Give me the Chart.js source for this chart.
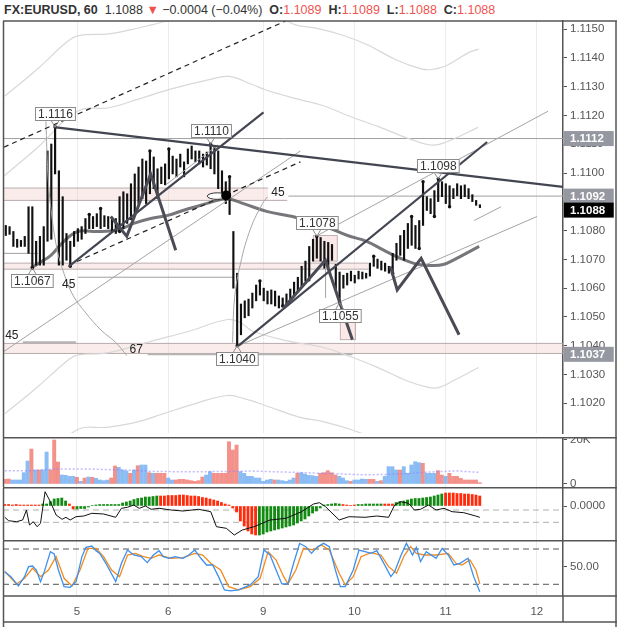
<!DOCTYPE html>
<html><head><meta charset="utf-8">
<script src="https://cdn.jsdelivr.net/npm/chart.js@4.4.1/dist/chart.umd.min.js"></script>
<style>
html,body{margin:0;padding:0;background:#fff;overflow:hidden}
#wrap{position:relative;width:617px;height:627px;overflow:hidden;font-family:"Liberation Sans",Arial,sans-serif}
#wrap canvas{position:absolute;left:0}
#hdr{position:absolute;left:4px;top:2px;font-size:12.5px;line-height:16px;color:#333;white-space:nowrap}
#hdr .b{font-weight:bold}
#hdr .r{color:#ef5350}
</style></head><body>
<div id="wrap">
<div id="hdr"><span class="b">FX:EURUSD, 60</span>&nbsp; <span>1.1088</span> <span class="r">▼</span> <span>−0.0004 (−0.04%)</span>&nbsp; <span class="b">O:</span><span class="r">1.1089</span>&nbsp; <span class="b">H:</span><span class="r">1.1089</span>&nbsp; <span class="b">L:</span><span class="r">1.1088</span>&nbsp; <span class="b">C:</span><span class="r">1.1088</span></div>
<canvas id="cMain" width="617" height="437" style="top:0"></canvas>
<canvas id="cVol" width="617" height="50" style="top:437px"></canvas>
<canvas id="cMacd" width="617" height="53" style="top:487px"></canvas>
<canvas id="cStoch" width="617" height="87" style="top:540px"></canvas>
</div>
<script>
// ---------------- DATA ----------------
const FIRST = 5; // index of first hourly bar
const dayTicks = [24, 48, 73, 97, 121, 145];
const dayLabels = ['5', '6', '9', '10', '11', '12'];
const priceTicks = [1.115,1.114,1.113,1.112,1.111,1.110,1.109,1.108,1.107,1.106,1.105,1.104,1.103,1.102];

const highs = [
1.10818,1.10814,1.10797,1.10770,1.10766,1.10780,1.10883,1.10883,1.10763,1.10780,
1.10814,1.11077,1.11101,1.11160,1.11008,1.10918,1.10790,1.10763,1.10797,1.10807,
1.10814,1.10842,1.10856,1.10849,1.10859,1.10877,1.10852,1.10849,1.10842,1.10842,
1.10918,1.10935,1.10928,1.10963,1.10997,1.11021,1.11049,1.11042,1.11077,1.11056,
1.11015,1.11021,1.11032,1.11084,1.11059,1.11049,1.11066,1.11039,1.11084,1.11094,
1.11077,1.11077,1.11066,1.11073,1.11100,1.11090,1.11077,1.11008,1.10970,1.10987,
1.10797,1.10652,1.10545,1.10556,1.10562,1.10583,1.10611,1.10625,1.10600,1.10590,
1.10594,1.10590,1.10573,1.10566,1.10580,1.10597,1.10621,1.10638,1.10676,1.10694,
1.10745,1.10770,1.10780,1.10776,1.10763,1.10759,1.10752,1.10683,1.10656,1.10645,
1.10652,1.10659,1.10645,1.10659,1.10656,1.10652,1.10687,1.10711,1.10701,1.10694,
1.10687,1.10676,1.10721,1.10756,1.10783,1.10801,1.10825,1.10849,1.10818,1.10835,
1.10970,1.10918,1.10911,1.10939,1.10980,1.10970,1.10963,1.10956,1.10946,1.10963,
1.10956,1.10959,1.10946,1.10925,1.10905,1.10890];
const lows = [
1.10783,1.10787,1.10745,1.10742,1.10745,1.10745,1.10721,1.10670,1.10680,1.10680,
1.10680,1.10763,1.10770,1.10997,1.10680,1.10680,1.10697,1.10676,1.10745,1.10763,
1.10770,1.10790,1.10807,1.10807,1.10814,1.10807,1.10814,1.10807,1.10797,1.10790,
1.10797,1.10807,1.10825,1.10842,1.10859,1.10894,1.10911,1.10894,1.10928,1.10946,
1.10911,1.10963,1.10959,1.10980,1.10997,1.10987,1.11021,1.10987,1.11032,1.11049,
1.11039,1.11032,1.11021,1.11028,1.11015,1.10997,1.10946,1.10911,1.10894,1.10856,
1.10600,1.10400,1.10438,1.10497,1.10504,1.10531,1.10556,1.10576,1.10556,1.10545,
1.10545,1.10538,1.10531,1.10538,1.10545,1.10562,1.10576,1.10590,1.10607,1.10625,
1.10625,1.10694,1.10704,1.10694,1.10669,1.10669,1.10697,1.10594,1.10550,1.10600,
1.10611,1.10625,1.10618,1.10632,1.10632,1.10635,1.10642,1.10676,1.10669,1.10663,
1.10659,1.10652,1.10652,1.10697,1.10714,1.10697,1.10738,1.10749,1.10738,1.10738,
1.10818,1.10870,1.10859,1.10849,1.10901,1.10918,1.10894,1.10883,1.10911,1.10921,
1.10911,1.10918,1.10911,1.10901,1.10888,1.10880];

// zigzag pivots: [bar index, 'H' or 'L']
const pivots = [[12,'L'],[18,'H'],[22,'L'],[27,'H'],[30,'H'],[35,'L'],[38,'L'],[43,'H'],[48,'H'],[59,'H'],[64,'H'],[66,'L'],[72,'H'],[78,'L'],[87,'H'],[93,'L'],[102,'H'],[107,'L'],[112,'H'],[114,'L'],[115,'H'],[118,'L'],[119,'H'],[122,'L']];
const pivotLabels = [[18,'H'],[59,'H'],[12,'L'],[87,'H'],[93,'L'],[119,'H'],[66,'L']];

// moving average (thick grey)
const maLine = [[11.6,1.10669],[13.7,1.10687],[16.9,1.10714],[20.3,1.10763],[24,1.10797],[28.2,1.10797],[34.5,1.10802],[38.7,1.10825],[43.2,1.10842],[47.7,1.10853],[51.9,1.10871],[56.4,1.10888],[60.8,1.10905],[63.5,1.10911],[67.7,1.10894],[74,1.10866],[80.6,1.10849],[85.3,1.10828],[89.3,1.10814],[95.1,1.10783],[100.1,1.10763],[104.5,1.10733],[109,1.10704],[113.5,1.10683],[116.9,1.10679],[120.3,1.10682],[123.5,1.10701],[129.8,1.10745]];

// envelope bands (light grey)
const bandA = [[4.68,1.11267],[13.21,1.11360],[20.76,1.11452],[24,1.11477],[32.16,1.11484],[37.82,1.11498],[43.47,1.11515],[51.1,1.11539],[66.9,1.11553],[77.42,1.11539],[81.37,1.11515],[87.03,1.11503],[93.66,1.11480],[100.32,1.11446],[107.87,1.11394],[114.53,1.11362],[117.34,1.11360],[121.1,1.11373],[126.79,1.11417],[129.63,1.11431]];
const bandB = [[4.53,1.10990],[13.47,1.11090],[24,1.11216],[32.16,1.11227],[39.71,1.11256],[48.21,1.11291],[58.63,1.11325],[63.84,1.11336],[70.0,1.11308],[73.74,1.11288],[82.32,1.11256],[88.92,1.11233],[96.5,1.11193],[103.74,1.11159],[111.63,1.11118],[117.42,1.11097],[121.1,1.11108],[129.53,1.11159]];
const bandC = [[4.68,1.10163],[13.21,1.10255],[21.71,1.10353],[24.08,1.10368],[32.16,1.10376],[43.47,1.10416],[53.74,1.10452],[63.47,1.10491],[66.9,1.10480],[70.05,1.10451],[79.53,1.10416],[89.0,1.10393],[96.5,1.10359],[103.13,1.10324],[110.71,1.10278],[116.37,1.10255],[119.26,1.10255],[122.95,1.10278],[129.63,1.10324]];
const bandD = [[13.47,1.09979],[23.6,1.10106],[32.16,1.10117],[39.71,1.10135],[46.37,1.10163],[54.79,1.10198],[63.37,1.10227],[68.1,1.10215],[74.74,1.10186],[82.32,1.10152],[88.92,1.10135],[96.5,1.10106],[103.74,1.10072]];

// user drawings (bar index, price)
const dashedLines = [
  [[4.5,1.11090],[82.7,1.11552]],
  [[21.63,1.10680],[82.68,1.11039]]];
const thickLines = [
  [[21.63,1.10676],[72.95,1.11211]],
  [[17.68,1.11160],[151.9,1.10952]],
  [[66.37,1.10400],[131.9,1.11108]]];
const zigzags = [
  [[32.68,1.10849],[36.9,1.10780],[43.2,1.10997],[49.8,1.10732]],
  [[78.2,1.10531],[89.26,1.10697],[96.37,1.10421]],
  [[106.37,1.10676],[108.2,1.10594],[114.5,1.10704],[124.5,1.10438]]];
const thinLines = [
  [[4.5,1.10380],[82.68,1.11077]],
  [[47.16,1.10959],[60.84,1.11097]],
  [[66.37,1.10400],[145.05,1.10849]],
  [[87.16,1.10783],[147.95,1.11215]],
  [[128.47,1.10835],[135.58,1.10883]],
  [[89.3,1.10566],[89.3,1.10697]]];
const arcLeft = [[15.58,1.11180],[16.1,1.10997],[16.9,1.10877],[18.47,1.10738],[20.32,1.10652],[22.68,1.10576],[26.1,1.10514],[30.05,1.10455],[34,1.10411],[36.9,1.10366]];
const arcRight = [[64.79,1.10411],[65.32,1.10566],[66.9,1.10687],[69.53,1.10807],[72.68,1.10894],[74.0,1.10918]];
// zones: [fromIdx, toIdx, lowPrice, highPrice]
const zones = [[4.5,79.2,1.10905,1.10948],[4.5,100.6,1.10666,1.10687],[4.5,151.9,1.10373,1.10408]];
const boxes = [[86.1,92.4,1.10694,1.10783],[93.2,97.2,1.10421,1.10525]];
// horizontal levels: [fromIdx, toIdx, price, heavy?]
const levels = [[4.5,151.9,1.1112,0],[79.5,151.9,1.1092,0],[4.5,13.5,1.10721,0],[24,65.05,1.10638,0],[9.5,23.5,1.10412,1],[42.4,96.4,1.10370,1]];
const angleTexts = [[21.6,1.10611,'45'],[6.6,1.10435,'45'],[39.4,1.10387,'67']];
const angleBoxText = [76.76,1.10933,'45'];
const ellipse = [60.76,1.10920,2.63,0.000114];
const bigDot = [63.1,1.10922];
const markedPrices = [1.1112,1.1092,1.1037];
const lastPrice = 1.1088;

// volume
const volumes = [
2100,2250,1800,1800,1800,5090,10330,15700,6290,6290,
6290,14370,6290,19760,9880,4040,3890,3440,3440,2990,
1200,2690,3140,2990,2540,1800,1500,1800,2690,8080,
7480,6290,5840,4790,6290,8230,8530,8530,5090,4790,
4790,4790,4790,2690,1800,1800,2100,2100,1800,1500,
1200,1500,3140,4040,5540,4790,4790,4790,4790,19010,
15270,17510,5540,4790,3440,3440,2690,2690,1200,1800,
2100,1800,1800,1500,1200,1800,2690,4790,5090,4490,
3890,3740,3440,4790,5090,5990,5090,4040,3440,2690,
1500,1200,1800,1800,2250,2100,2100,2100,1200,1500,
3440,7780,7780,6290,6290,7780,4790,8530,10030,9580,
9280,4790,4790,4790,5990,4040,3440,4790,3440,3440,
2540,1800,1800,1800,1800,600];
const volDir = "rrbbbbbrbr"+"bbrrrbbbbr"+"brbrbbbbrr"+"bbbrbrbbrb"+"rrrbbrrrrr"+"rrrbbrrrrr"+"rrbbbbbbbb"+"brbbbbbrbb"+"bbbrrrrrbb"+"brbbbbrrbr"+"bbbbrbbbbb"+"rbbbrrbrrr"+"rrrrrr";
const volMA = [[5,5900],[12,6000],[18,6700],[28,6700],[36,6300],[45,5600],[55,5500],[62,5600],[70,5800],[80,5300],[90,4700],[100,4100],[108,4400],[116,5300],[124,5900],[130,5200]];

// MACD (units of 0.00001)
const macdHist = [
1.5,1.5,1,1.5,1,1,1,1,1,1,
2,2,4.5,7,7.5,8,5,2,-3,-3,
-2.5,-2.5,-1,0.5,1,1.5,1.5,1.5,1.5,1.5,
1.5,3,4,5,6.5,7.5,8,9,9,9.5,
10,10,10,10.5,10.5,10.5,11,11,10.5,10,
10,9.5,8.5,8,7,6,5,3.5,2,1,
-2,-6,-15,-20,-25,-28,-29,-29,-28,-26,
-25,-24,-23,-22,-21,-20,-19,-17,-15,-13,
-10,-7,-5,-2,1,1.5,2,2.5,2,1.5,
1,0.4,1,1.5,1.5,2,2,2,2,2,
2,2,2,3.5,4.5,5,6,7,7.5,7.5,
8,8.5,9,10,11,12,13,13,13,12.5,
12.5,12,12,11.5,11,10];
const histDir = "rrrrrrrrrr"+"gggggggrrg"+"gggggggggg"+"gggggggggg"+"grrrrrrrrr"+"rrrrrrrrrr"+"rrrrrrrggg"+"gggggggggg"+"gggggggggr"+"rrrggggggg"+"rrrggggggg"+"ggggggrrrr"+"rrrrrr";
const macdLine = [[5,-11.3],[6,-14.7],[8.1,-15.7],[9.7,-14],[10.7,-4],[11.5,-19],[12.5,-15.7],[13.5,-20.7],[14.4,-17.3],[15.6,14.3],[17,4.3],[18.5,-9],[20.1,-13.3],[21.1,-11.3],[22.2,-14],[23.75,-10.7],[25.8,-10],[27.9,-7.3],[31,-8],[34.2,-11.3],[35.7,-2.3],[37.3,-1.3],[38.9,1],[40.4,-2.3],[42,0],[43.5,-3.3],[45.6,-2.3],[48.75,-4],[51.9,-5],[56,-3.3],[59.2,-5.7],[60.7,-20.7],[63.3,-22.3],[65.4,-29],[67.5,-24],[70.6,-20.7],[74.8,-14],[79,-12.3],[83.1,-5.7],[86.25,2],[87.8,3.3],[89.4,-0.7],[93,-14],[95.6,-10.7],[99.8,-11.3],[102.9,-10],[106,-11.3],[107.6,1],[109.2,4.3],[111.25,2.7],[112.8,-4],[114.4,-3.3],[116.5,1],[118.5,-4],[120.6,-2.3],[122.7,-5.7],[125.8,-6.7],[128.9,-10],[130,-11.3]];
const macdLevels = [-4, -16.3];

// Stochastic
const stochK = [[5,41.5],[6.6,33],[8.6,17.2],[10.2,33],[11.25,50],[12.3,51.1],[13.3,44.3],[14.4,24.5],[15.4,41.5],[17,75.5],[18,71.5],[19.1,44.3],[20.6,16],[22.2,14.9],[23.75,24.5],[25.3,67],[26.35,82.8],[27.9,85.1],[29,77.2],[30,72.6],[31.6,55.7],[34.2,24.5],[35.7,55.7],[37.3,78.3],[38.9,69.8],[40.9,67],[42.5,56.8],[44.1,69.8],[45.6,77.2],[46.7,67],[48.2,64.2],[49.8,67],[51.9,64.2],[53.4,69.8],[55,78.3],[56.6,64.2],[58.1,52.8],[59.7,52.8],[61.25,33],[62.8,10.4],[64.4,8.7],[66.5,10.4],[69.6,18.9],[71.7,33],[73.2,78.3],[74.8,69.8],[76.4,44.3],[77.9,20.6],[79.5,20.6],[81,55.7],[82.6,89.6],[84.2,84],[85.7,72.6],[87.3,84],[88.9,89.6],[90.4,84],[92,44.3],[93.3,16],[94.6,16],[96.7,44.3],[98.2,78.3],[99.8,75.5],[101.4,72.6],[102.9,77.2],[104.5,58.5],[106.6,33],[107.6,41.5],[109.2,68.1],[110.7,89.6],[112.3,69.8],[113.3,82.8],[114.4,58.5],[115.9,75.5],[118.5,64.2],[120.1,81.1],[121.7,69.8],[123.2,52.8],[124.8,55.7],[126.9,64.2],[128.4,33],[130,7.5]];
const stochD = [[5,41.5],[8.1,20.6],[10.2,30.2],[12.3,47.2],[14.4,33],[16.5,44.3],[18.5,67],[20.6,30.2],[22.7,17.2],[24.8,44.3],[26.9,81.1],[29,81.1],[31,67],[33.1,44.3],[35.2,33],[37.3,69.8],[39.4,72.6],[41.5,67],[43.5,64.2],[45.6,69.8],[48.75,64.2],[51.9,65.3],[55,72.6],[57.1,69.8],[59.2,55.7],[61.8,44.3],[63.9,16],[66.5,10.4],[69.6,16],[72.2,30.2],[74.3,75.5],[76.4,61.3],[78.4,33],[79.5,20.6],[81.6,44.3],[83.6,81.1],[86.25,78.3],[88.3,86.8],[90.4,78.3],[93,38.7],[94.6,18.9],[96.7,33],[98.75,67],[101.4,73.8],[104,69.8],[106,50],[108.1,38.7],[110.2,69.8],[111.8,84],[113.3,72.6],[115.4,69.8],[118.5,69.8],[121.7,72.6],[123.75,55.7],[125.3,52.8],[127.4,61.3],[129,44.3],[130,20.6]];
const stochLevels = [80, 20];

// ---------------- RENDER ----------------
const F = '"Liberation Sans", Arial, sans-serif';
const X_MIN = 4.53, X_MAX = 151.9;
const AXW = 54;
const pts = arr => arr.map(p => ({x: p[0], y: p[1]}));

function xScale(showLabels) {
  return {
    type: 'linear', min: X_MIN, max: X_MAX, offset: false,
    afterBuildTicks: s => { s.ticks = dayTicks.map(v => ({value: v})); },
    grid: {color: '#ececec', drawTicks: false, offset: false},
    border: {display: false},
    ticks: {display: showLabels, color: '#555', font: {family: F, size: 11.5}, padding: 9, maxRotation: 0, autoSkip: false,
      callback: v => dayLabels[dayTicks.indexOf(v)]},
    afterFit: s => { s.height = showLabels ? 31 : 0; s.paddingLeft = 0; s.paddingRight = 0; s.paddingTop = 0; s.paddingBottom = 0; }
  };
}
function yScale(min, max, ticks, fmt) {
  return {
    type: 'linear', position: 'right', min: min, max: max,
    afterBuildTicks: s => { s.ticks = ticks.map(v => ({value: v})); },
    grid: {drawOnChartArea: false, drawTicks: true, tickLength: 4, color: '#555'},
    border: {display: true, color: '#555', width: 1.5},
    ticks: {color: '#555', font: {family: F, size: 11.5}, padding: 3, autoSkip: false, callback: fmt},
    afterFit: s => { s.width = AXW; s.paddingTop = 0; s.paddingBottom = 0; }
  };
}
const framePlugin = {
  id: 'frame',
  afterDraw(chart, args, o) {
    const {ctx, chartArea: a, width, height} = chart;
    ctx.save();
    ctx.strokeStyle = '#555'; ctx.lineWidth = 1.5;
    ctx.beginPath();
    const t = a.top + (o.topInset || 0);
    ctx.moveTo(3, t); ctx.lineTo(width, t);
    ctx.moveTo(3.5, a.top); ctx.lineTo(3.5, height);
    ctx.moveTo(width - 1, a.top); ctx.lineTo(width - 1, height);
    if (o.bottom) {
      ctx.moveTo(3, a.bottom); ctx.lineTo(width, a.bottom);
      ctx.moveTo(a.right, a.bottom); ctx.lineTo(a.right, height - 5);
      ctx.moveTo(3, height - 5); ctx.lineTo(width, height - 5);
    }
    ctx.stroke();
    ctx.restore();
  }
};

function lineDS(data, color, width, order, extra) {
  return Object.assign({type: 'line', data: pts(data), borderColor: color, borderWidth: width, pointRadius: 0, fill: false, order: order, tension: 0}, extra || {});
}

// ---- main panel drawings plugin
const drawPlugin = {
  id: 'drawings',
  beforeDatasetsDraw(chart) {
    const {ctx, chartArea: a, scales: {x, y}} = chart;
    ctx.save();
    ctx.beginPath(); ctx.rect(a.left, a.top, a.width, a.height); ctx.clip();
    zones.forEach(z => {
      const x0 = x.getPixelForValue(z[0]), x1 = x.getPixelForValue(z[1]);
      const yTop = y.getPixelForValue(z[3]), yBot = y.getPixelForValue(z[2]);
      ctx.fillStyle = 'rgba(244,196,196,0.33)';
      ctx.fillRect(x0, yTop, x1 - x0, yBot - yTop);
      ctx.strokeStyle = 'rgba(175,160,160,0.85)'; ctx.lineWidth = 1;
      ctx.beginPath(); ctx.moveTo(x0, yTop); ctx.lineTo(x1, yTop); ctx.moveTo(x0, yBot); ctx.lineTo(x1, yBot); ctx.stroke();
    });
    boxes.forEach(z => {
      const x0 = x.getPixelForValue(z[0]), x1 = x.getPixelForValue(z[1]);
      const yTop = y.getPixelForValue(z[3]), yBot = y.getPixelForValue(z[2]);
      ctx.fillStyle = 'rgba(244,190,190,0.35)';
      ctx.fillRect(x0, yTop, x1 - x0, yBot - yTop);
      ctx.strokeStyle = 'rgba(190,170,170,0.9)'; ctx.lineWidth = 1;
      ctx.strokeRect(x0, yTop, x1 - x0, yBot - yTop);
    });
    levels.forEach(l => {
      const x0 = x.getPixelForValue(l[0]), x1 = x.getPixelForValue(l[1]), yy = y.getPixelForValue(l[2]);
      ctx.strokeStyle = l[3] ? '#b4b4b4' : '#a0a0a0'; ctx.lineWidth = l[3] ? 2 : 1;
      ctx.beginPath(); ctx.moveTo(x0, yy); ctx.lineTo(x1, yy); ctx.stroke();
    });
    ctx.restore();
  },
  afterDatasetsDraw(chart) {
    const {ctx, chartArea: a, scales: {x, y}} = chart;
    ctx.save();
    ctx.beginPath(); ctx.rect(a.left, a.top, a.width, a.height); ctx.clip();
    // ellipse + dot
    const cx = x.getPixelForValue(ellipse[0]), cy = y.getPixelForValue(ellipse[1]);
    const rx = x.getPixelForValue(ellipse[0] + ellipse[2]) - cx;
    const ry = y.getPixelForValue(ellipse[1] - ellipse[3]) - cy;
    ctx.beginPath(); ctx.ellipse(cx, cy, rx, ry, 0, 0, Math.PI * 2);
    ctx.fillStyle = 'rgba(255,255,255,0.9)'; ctx.fill();
    ctx.strokeStyle = '#333'; ctx.lineWidth = 1; ctx.stroke();
    ctx.beginPath(); ctx.arc(x.getPixelForValue(bigDot[0]), y.getPixelForValue(bigDot[1]), 5, 0, Math.PI * 2);
    ctx.fillStyle = '#000'; ctx.fill();
    // angle texts
    ctx.font = '12px ' + F; ctx.textBaseline = 'middle'; ctx.textAlign = 'center';
    angleTexts.forEach(t => {
      ctx.fillStyle = '#222';
      ctx.fillText(t[2], x.getPixelForValue(t[0]), y.getPixelForValue(t[1]));
    });
    {
      const bx = x.getPixelForValue(angleBoxText[0]), by = y.getPixelForValue(angleBoxText[1]);
      ctx.fillStyle = 'rgba(255,255,255,0.95)';
      ctx.fillRect(bx - 10, by - 7, 20, 14);
      ctx.fillStyle = '#222';
      ctx.fillText(angleBoxText[2], bx, by);
    }
    // pivot price labels
    pivotLabels.forEach(pl => {
      const i = pl[0] - FIRST;
      const price = pl[1] === 'H' ? highs[i] : lows[i];
      const ax = x.getPixelForValue(pl[0]), ay = y.getPixelForValue(price);
      const above = pl[1] === 'H';
      const text = price.toFixed(4);
      ctx.font = '12px ' + F;
      const w = ctx.measureText(text).width + 5, h = 13;
      const cyy = above ? ay - 13.5 : ay + 12.5;
      const x0 = Math.round(ax - w / 2) + 0.5, y0 = Math.round(cyy - h / 2) + 0.5;
      const edge = above ? y0 + h : y0;
      ctx.strokeStyle = '#8c8c8c'; ctx.lineWidth = 1;
      ctx.beginPath(); ctx.moveTo(ax - 4, edge); ctx.lineTo(ax, ay); ctx.lineTo(ax + 4, edge); ctx.stroke();
      ctx.fillStyle = '#fff'; ctx.fillRect(x0, y0, w, h);
      ctx.strokeRect(x0, y0, w, h);
      ctx.fillStyle = '#333'; ctx.textAlign = 'center'; ctx.textBaseline = 'middle';
      ctx.fillText(text, x0 + w / 2, y0 + h / 2 + 0.5);
    });
    ctx.restore();
  },
  afterDraw(chart) {
    const {ctx, chartArea: a, scales: {y}, width} = chart;
    ctx.save();
    ctx.font = 'bold 11.5px ' + F; ctx.textAlign = 'left'; ctx.textBaseline = 'middle';
    const drawMark = (p, bg, dy) => {
      const yc = y.getPixelForValue(p) + dy;
      ctx.fillStyle = bg; ctx.fillRect(a.right + 0.75, yc - 7.5, width - a.right - 4, 15);
      ctx.fillStyle = '#fff'; ctx.fillText(p.toFixed(4), a.right + 7, yc + 0.5);
    };
    markedPrices.forEach(p => drawMark(p, '#9598a1', 0));
    drawMark(lastPrice, '#000', 2.5);
    ctx.restore();
  }
};

const ohlc = highs.map((h, i) => ({x: FIRST + i, y: [lows[i], h]}));
const pivotPts = pivots.map(p => ({x: p[0], y: p[1] === 'H' ? highs[p[0] - FIRST] : lows[p[0] - FIRST]}));

const mainDatasets = [
  lineDS(bandA, '#d8d8d8', 1.2, 60, {tension: 0.4}),
  lineDS(bandB, '#d8d8d8', 1.2, 60, {tension: 0.4}),
  lineDS(bandC, '#d8d8d8', 1.2, 60, {tension: 0.4}),
  lineDS(bandD, '#d8d8d8', 1.2, 60, {tension: 0.4}),
  lineDS(maLine, 'rgba(95,95,100,0.85)', 3, 50, {tension: 0.4}),
  {type: 'bar', data: ohlc, backgroundColor: '#111', barThickness: 1.5, order: 40},
  {type: 'line', data: pivotPts, showLine: false, pointRadius: 1.7, pointBackgroundColor: '#111', pointBorderWidth: 0, order: 39},
  lineDS(arcLeft, '#a6a6a6', 1, 30, {tension: 0.4}),
  lineDS(arcRight, '#a6a6a6', 1, 30, {tension: 0.4})
];
thinLines.forEach(l => mainDatasets.push(lineDS(l, '#a4a4a4', 1, 30)));
dashedLines.forEach(l => mainDatasets.push(lineDS(l, '#222', 1.2, 25, {borderDash: [5, 4]})));
thickLines.forEach(l => mainDatasets.push(lineDS(l, '#434651', 2.2, 20)));
zigzags.forEach(l => mainDatasets.push(lineDS(l, '#4a4b55', 3, 15)));

const baseOpts = (padTop, bottomPad) => ({
  responsive: false, animation: false, devicePixelRatio: 1,
  layout: {padding: {left: 3, right: 0, top: padTop, bottom: bottomPad}},
  plugins: {legend: {display: false}, tooltip: {enabled: false}},
  events: []
});

new Chart(document.getElementById('cMain'), {
  type: 'line',
  data: {datasets: mainDatasets},
  options: Object.assign(baseOpts(21, 1), {
    scales: {
      x: xScale(false),
      y: yScale(1.100966, 1.115286, priceTicks, v => v.toFixed(4))
    },
    plugins: {legend: {display: false}, tooltip: {enabled: false}, frame: {}}
  }),
  plugins: [drawPlugin, framePlugin]
});

new Chart(document.getElementById('cVol'), {
  type: 'line',
  data: {datasets: [
    lineDS(volMA, 'rgba(140,130,255,0.55)', 1.5, 1, {borderDash: [2, 2]}),
    {type: 'bar', data: volumes.map((v, i) => ({x: FIRST + i, y: v})),
      backgroundColor: volumes.map((v, i) => volDir[i] === 'r' ? 'rgba(239,110,100,0.75)' : 'rgba(100,165,240,0.75)'),
      barThickness: 3.3, order: 5}
  ]},
  options: Object.assign(baseOpts(0, 0), {
    scales: {
      x: xScale(false),
      y: yScale(-1350, 21120, [0, 20000], v => v === 0 ? '0' : '20K')
    },
    plugins: {legend: {display: false}, tooltip: {enabled: false}, frame: {topInset: 0.75}}
  }),
  plugins: [framePlugin]
});

new Chart(document.getElementById('cMacd'), {
  type: 'line',
  data: {datasets: [
    lineDS(macdLine, '#111', 1, 1),
    ...macdLevels.map(lv => lineDS([[X_MIN, lv], [X_MAX, lv]], '#b0b0b0', 1, 10, {borderDash: [6, 4]})),
    {type: 'bar', data: macdHist.map((v, i) => ({x: FIRST + i, y: v})),
      backgroundColor: macdHist.map((v, i) => histDir[i] === 'r' ? '#ff2b0a' : '#138a13'),
      barThickness: 2.2, order: 5}
  ]},
  options: Object.assign(baseOpts(1, 0), {
    scales: {
      x: xScale(false),
      y: yScale(-34, 18, [0], v => (v * 0.00001).toFixed(4))
    },
    plugins: {legend: {display: false}, tooltip: {enabled: false}, frame: {topInset: -0.25}}
  }),
  plugins: [framePlugin]
});

new Chart(document.getElementById('cStoch'), {
  type: 'line',
  data: {datasets: [
    lineDS(stochK, '#3d8ff0', 1.3, 1),
    lineDS(stochD, '#f28a1c', 1.3, 2),
    ...stochLevels.map(lv => lineDS([[X_MIN, lv], [X_MAX, lv]], '#555', 1, 10, {borderDash: [6, 4]}))
  ]},
  options: Object.assign(baseOpts(1, 0), {
    scales: {
      x: xScale(true),
      y: yScale(0.1, 93.6, [50], v => v.toFixed(2))
    },
    plugins: {legend: {display: false}, tooltip: {enabled: false}, frame: {topInset: -0.25, bottom: true}}
  }),
  plugins: [framePlugin]
});
</script>
</body></html>
